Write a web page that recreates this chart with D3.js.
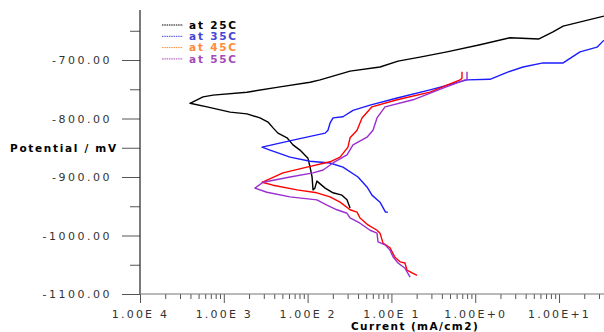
<!DOCTYPE html>
<html>
<head>
<meta charset="utf-8">
<script src="https://cdn.jsdelivr.net/npm/d3@7"></script>
<style>
  html, body { margin: 0; padding: 0; background: #fff; }
  svg { display: block; }
  .tick text { font-family: "DejaVu Sans", sans-serif; fill: #333; }
</style>
</head>
<body>
<svg id="chart" width="604" height="332"></svg>
<script>
"use strict";

/* Tafel curves: [current mA/cm2, potential mV] */
const curve25 = [
  [0.0321, -953], [0.0295, -939], [0.0257, -931], [0.0201, -927], [0.0162, -919],
  [0.0129, -907], [0.0122, -919], [0.0116, -922], [0.0113, -900], [0.0107, -883],
  [0.0101, -868], [0.00811, -854], [0.00669, -845], [0.00568, -833], [0.00443, -825],
  [0.00387, -816], [0.00337, -806], [0.00270, -799], [0.00189, -792], [0.00119, -789],
  [0.000631, -780], [0.000395, -774], [0.000565, -763], [0.000743, -760], [0.00189, -755],
  [0.00469, -746], [0.0107, -738], [0.0141, -734], [0.0321, -719], [0.0731, -712],
  [0.120, -702], [0.219, -695], [0.460, -686], [1.14, -674], [2.60, -662],
  [5.77, -664], [8.47, -652], [11.2, -642], [34.4, -625]
];

const curve35 = [
  [0.0910, -960], [0.0850, -960], [0.0731, -943], [0.0586, -931], [0.0511, -917],
  [0.0399, -900], [0.0264, -883], [0.0185, -876], [0.0107, -873], [0.00617, -866],
  [0.00356, -854], [0.00286, -849], [0.00669, -837], [0.0162, -825], [0.0175, -820],
  [0.0185, -808], [0.0201, -799], [0.0264, -797], [0.0348, -786], [0.0556, -777],
  [0.117, -765], [0.289, -751], [0.798, -734], [1.50, -733], [2.40, -721],
  [3.72, -712], [6.44, -705], [11.2, -705], [17.8, -686], [28.4, -678], [34.4, -666]
];

const curve45 = [
  [0.202, -1068], [0.153, -1059], [0.145, -1047], [0.127, -1045], [0.110, -1037],
  [0.0962, -1021], [0.0794, -1013], [0.0731, -996], [0.0673, -991], [0.0526, -982],
  [0.0422, -970], [0.0389, -960], [0.0321, -956], [0.0244, -943], [0.0185, -934],
  [0.0129, -927], [0.00748, -922], [0.00387, -914], [0.00286, -909], [0.00508, -893],
  [0.00984, -883], [0.0185, -874], [0.0244, -866], [0.0303, -849], [0.0321, -833],
  [0.0389, -820], [0.0446, -799], [0.0586, -780], [0.117, -768], [0.289, -755],
  [0.460, -743], [0.659, -734], [0.695, -731], [0.695, -720]
];

const curve55 = [
  [0.167, -1071], [0.145, -1056], [0.120, -1047], [0.105, -1037], [0.0962, -1025],
  [0.0839, -1016], [0.0692, -1011], [0.0673, -996], [0.0556, -991], [0.0422, -979],
  [0.0321, -970], [0.0295, -962], [0.0224, -956], [0.0170, -948], [0.0129, -939],
  [0.00617, -934], [0.00327, -926], [0.00235, -919], [0.00294, -909], [0.00617, -900],
  [0.0116, -893], [0.0153, -888], [0.0201, -876], [0.0295, -862], [0.0348, -845],
  [0.0511, -832], [0.0603, -820], [0.0673, -799], [0.0839, -780], [0.181, -768],
  [0.413, -748], [0.607, -739], [0.755, -734], [0.798, -734], [0.798, -720]
];

const SERIES_NAMES   = ["at 25C", "at 35C", "at 45C", "at 55C"];
const SERIES_COLORS  = ["#000000", "#1c1cff", "#ff0000", "#9a2ed0"];
const LEGEND_COLORS  = ["#000000", "#4646d2", "#ff8a3c", "#a24cb8"];

const Y_MAJOR = [-700, -800, -900, -1000, -1100];
const Y_MINOR = [-650, -750, -950, -1050];
const X_MAJOR = [1e-4, 1e-3, 1e-2, 1e-1, 1e0, 1e1];
const X_LABELS = ["1.00E 4", "1.00E 3", "1.00E 2", "1.00E 1", "1.00E+0", "1.00E+1"];

(function () {

  /* ── Layout ── */
  const svg = d3.select("#chart");
  const L = 140, R = 604, T = 10, B = 294;

  const x = d3.scaleLog().domain([1e-4, 34.4]).range([L, R]);
  const y = d3.scaleLinear().domain([-1100, -614.5]).range([B, T]);

  /* minor x ticks 2..9 per decade */
  const xMinor = [];
  X_MAJOR.forEach(function (d) {
    for (let k = 2; k <= 9; k++) if (d * k <= 34.4) xMinor.push(d * k);
  });

  /* ── Axes ── */
  const axisColor = "#555";

  const gy = svg.append("g").attr("transform", "translate(" + L + ",0)")
    .call(d3.axisLeft(y).tickValues(Y_MAJOR).tickSize(18).tickSizeOuter(0)
      .tickPadding(10).tickFormat(function (d) { return d.toFixed(2); }));
  gy.selectAll(".tick text").attr("font-size", 11).attr("letter-spacing", 2.5).attr("dy", "0.36em");
  gy.select(".domain").remove();

  svg.append("g").attr("transform", "translate(" + L + ",0)")
    .call(d3.axisLeft(y).tickValues(Y_MINOR).tickSize(10).tickFormat(""))
    .select(".domain").remove();
  svg.append("g").attr("transform", "translate(" + L + ",0)")
    .call(d3.axisLeft(y).tickValues([-850]).tickSize(18).tickFormat(""))
    .select(".domain").remove();

  const gx = svg.append("g").attr("transform", "translate(0," + B + ")")
    .call(d3.axisBottom(x).tickValues(X_MAJOR).tickSize(9).tickSizeOuter(0)
      .tickPadding(7).tickFormat(function (d, i) { return X_LABELS[i]; }));
  gx.selectAll(".tick text").attr("font-size", 11).attr("letter-spacing", 2.2);
  gx.select(".domain").remove();

  svg.append("g").attr("transform", "translate(0," + B + ")")
    .call(d3.axisBottom(x).tickValues(xMinor).tickSize(5).tickFormat(""))
    .select(".domain").remove();

  svg.selectAll(".tick line").attr("stroke", axisColor);

  /* axis lines */
  svg.append("line").attr("x1", L).attr("x2", L).attr("y1", T).attr("y2", B)
    .attr("stroke", "#222").attr("stroke-width", 1.2);
  svg.append("line").attr("x1", L).attr("x2", R).attr("y1", B).attr("y2", B)
    .attr("stroke", "#777").attr("stroke-width", 1.2);

  /* axis titles */
  svg.append("text").attr("x", 10).attr("y", 152)
    .attr("font-family", "DejaVu Sans, sans-serif").attr("font-weight", "bold")
    .attr("font-size", 10.5).attr("letter-spacing", 1.7).attr("fill", "#000")
    .text("Potential / mV");
  svg.append("text").attr("x", 415).attr("y", 330).attr("text-anchor", "middle")
    .attr("font-family", "DejaVu Sans, sans-serif").attr("font-weight", "bold")
    .attr("font-size", 10.5).attr("letter-spacing", 1.4).attr("fill", "#000")
    .text("Current (mA/cm2)");

  /* ── Curves ── */
  svg.append("clipPath").attr("id", "plot-clip").append("rect")
    .attr("x", L).attr("y", 0).attr("width", R - L).attr("height", B);

  const line = d3.line().x(function (d) { return x(d[0]); }).y(function (d) { return y(d[1]); });

  const plot = svg.append("g").attr("clip-path", "url(#plot-clip)");
  [curve25, curve35, curve45, curve55].forEach(function (c, i) {
    plot.append("path").datum(c)
      .attr("d", line)
      .attr("fill", "none")
      .attr("stroke", SERIES_COLORS[i])
      .attr("stroke-width", 1.4)
      .attr("stroke-linejoin", "round");
  });

  /* ── Legend ── */
  const legend = svg.append("g").attr("transform", "translate(162,25)");
  SERIES_NAMES.forEach(function (name, i) {
    const row = legend.append("g").attr("transform", "translate(0," + (i * 11.3) + ")");
    row.append("line").attr("x1", 0).attr("x2", 21).attr("y1", 0).attr("y2", 0)
      .attr("stroke", LEGEND_COLORS[i]).attr("stroke-width", 1)
      .attr("stroke-dasharray", "1.5,0.8");
    row.append("text").attr("x", 27).attr("y", 0).attr("dy", "0.36em")
      .attr("font-family", "DejaVu Sans, sans-serif").attr("font-weight", "bold")
      .attr("font-size", 10.5).attr("letter-spacing", 1.8)
      .attr("fill", LEGEND_COLORS[i])
      .text(name);
  });

}());
</script>
</body>
</html>
